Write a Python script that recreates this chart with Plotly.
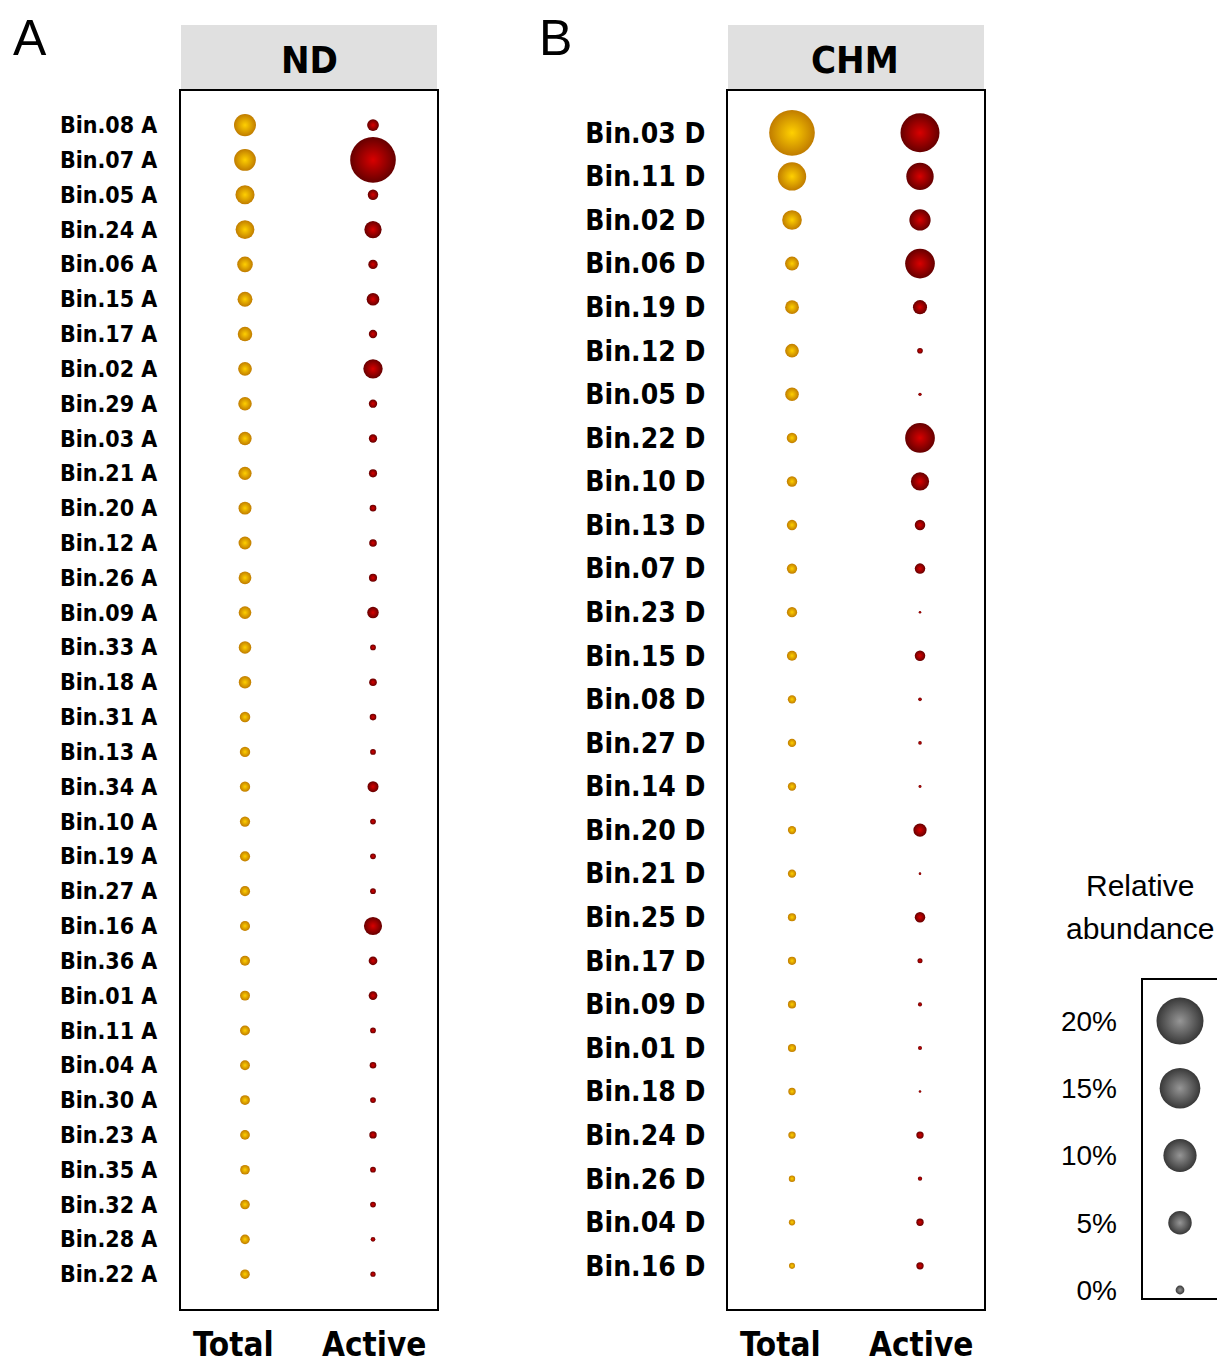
import plotly.graph_objects as go

# ---------------- data ----------------
columns = ["Total", "Active"]

nd_bins = ["Bin.08 A", "Bin.07 A", "Bin.05 A", "Bin.24 A", "Bin.06 A", "Bin.15 A", "Bin.17 A",
           "Bin.02 A", "Bin.29 A", "Bin.03 A", "Bin.21 A", "Bin.20 A", "Bin.12 A", "Bin.26 A",
           "Bin.09 A", "Bin.33 A", "Bin.18 A", "Bin.31 A", "Bin.13 A", "Bin.34 A", "Bin.10 A",
           "Bin.19 A", "Bin.27 A", "Bin.16 A", "Bin.36 A", "Bin.01 A", "Bin.11 A", "Bin.04 A",
           "Bin.30 A", "Bin.23 A", "Bin.35 A", "Bin.32 A", "Bin.28 A", "Bin.22 A"]
nd_total = [4.4, 4.3, 3.3, 3.2, 2.2, 2.0, 1.9, 1.7, 1.65, 1.6, 1.58, 1.52, 1.5, 1.48, 1.45, 1.42,
            1.4, 1.0, 0.98, 0.97, 0.95, 0.94, 0.93, 0.92, 0.91, 0.9, 0.89, 0.88, 0.87, 0.86, 0.85,
            0.84, 0.83, 0.82]
nd_active = [1.25, 18.9, 1.0, 2.7, 0.8, 1.45, 0.63, 3.4, 0.63, 0.63, 0.6, 0.4, 0.53, 0.6, 1.2,
             0.3, 0.53, 0.4, 0.3, 1.1, 0.3, 0.3, 0.3, 3.0, 0.68, 0.68, 0.3, 0.4, 0.3, 0.5, 0.3,
             0.3, 0.2, 0.25]

chm_bins = ["Bin.03 D", "Bin.11 D", "Bin.02 D", "Bin.06 D", "Bin.19 D", "Bin.12 D", "Bin.05 D",
            "Bin.22 D", "Bin.10 D", "Bin.13 D", "Bin.07 D", "Bin.23 D", "Bin.15 D", "Bin.08 D",
            "Bin.27 D", "Bin.14 D", "Bin.20 D", "Bin.21 D", "Bin.25 D", "Bin.17 D", "Bin.09 D",
            "Bin.01 D", "Bin.18 D", "Bin.24 D", "Bin.26 D", "Bin.04 D", "Bin.16 D"]
chm_total = [18.9, 7.3, 3.5, 1.75, 1.72, 1.7, 1.68, 1.0, 0.98, 0.97, 0.96, 0.95, 0.94, 0.64,
             0.63, 0.63, 0.62, 0.62, 0.61, 0.61, 0.6, 0.6, 0.5, 0.49, 0.37, 0.36, 0.33]
chm_active = [13.8, 6.8, 4.1, 8.0, 1.8, 0.29, 0.1, 8.0, 3.0, 1.0, 1.0, 0.06, 1.0, 0.12, 0.12,
              0.08, 1.6, 0.06, 1.0, 0.23, 0.15, 0.15, 0.06, 0.49, 0.17, 0.49, 0.49]

legend_values = [20, 15, 10, 5, 0]
legend_labels = ["20%", "15%", "10%", "5%", "0%"]
legend_bubble_values = [20, 15, 10, 5, 0.7]

# ---------------- styling ----------------
W, H = 1218, 1365
HEFF = 1358  # effective vertical extent used for layout positions
NARROW = "DejaVu Sans Condensed, Liberation Sans Narrow, Arial Narrow, sans-serif"
REG = "Liberation Sans, Arial, sans-serif"
SIZEREF = 2 / 10.5 ** 2

GOLD = dict(color="#C07C00", grad="#FFD000")
RED = dict(color="#660000", grad="#D80000")
GRAY = dict(color="#383838", grad="#969696")


def px(x):
    return x / W


def py(y):
    return 1 - y / HEFF


def bubbles(xcat, bins, vals, style, xa, ya):
    return go.Scatter(
        x=[xcat] * len(bins), y=list(range(len(bins))), mode="markers",
        xaxis=xa, yaxis=ya, showlegend=False, cliponaxis=False,
        marker=dict(size=vals, sizemode="area", sizeref=SIZEREF, color=style["color"],
                    opacity=1, gradient=dict(type="radial", color=style["grad"]),
                    line=dict(width=0)),
        hovertext=bins,
    )


fig = go.Figure()
fig.add_trace(bubbles(0, nd_bins, nd_total, GOLD, "x", "y"))
fig.add_trace(bubbles(1, nd_bins, nd_active, RED, "x", "y"))
fig.add_trace(bubbles(0, chm_bins, chm_total, GOLD, "x2", "y2"))
fig.add_trace(bubbles(1, chm_bins, chm_active, RED, "x2", "y2"))
fig.add_trace(go.Scatter(
    x=[0] * len(legend_values), y=legend_values, mode="markers", xaxis="x3", yaxis="y3",
    showlegend=False, cliponaxis=False,
    marker=dict(size=legend_bubble_values, sizemode="area", sizeref=SIZEREF,
                color=GRAY["color"], opacity=1,
                gradient=dict(type="radial", color=GRAY["grad"]), line=dict(width=0)),
))

box_y = [py(1309), py(91)]
xcommon = dict(range=[-0.5, 1.5], tickvals=[0, 1], showticklabels=False, showgrid=False,
               zeroline=False, showline=True, mirror=True, linewidth=2, linecolor="black",
               ticks="", fixedrange=True)
ycommon = dict(showgrid=False, zeroline=False, showline=True, mirror=True, linewidth=2,
               linecolor="black", ticks="", fixedrange=True)

fig.update_layout(
    width=W, height=H, margin=dict(l=0, r=0, t=0, b=0),
    paper_bgcolor="white", plot_bgcolor="white",
    xaxis=dict(domain=[px(181), px(437)], anchor="y", **xcommon),
    yaxis=dict(domain=box_y, anchor="x", range=[len(nd_bins), -0.98],
               tickvals=list(range(len(nd_bins))), ticktext=nd_bins, ticklabelstandoff=17,
               tickfont=dict(family=NARROW, size=23, color="black", weight="bold"), **ycommon),
    xaxis2=dict(domain=[px(728), px(984)], anchor="y2", **xcommon),
    yaxis2=dict(domain=box_y, anchor="x2", range=[len(chm_bins) - 0.01, -0.96],
                tickvals=list(range(len(chm_bins))), ticktext=chm_bins, ticklabelstandoff=15,
                tickfont=dict(family=NARROW, size=28, color="black", weight="bold"), **ycommon),
    xaxis3=dict(domain=[px(1142), 1.0], anchor="y3", range=[-1, 1], visible=False,
                fixedrange=True),
    yaxis3=dict(domain=[py(1299), py(979)], anchor="x3", range=[-0.67, 23.12],
                tickvals=legend_values, ticktext=legend_labels, showgrid=False,
                zeroline=False, showline=False, ticks="", ticklabelstandoff=24,
                tickfont=dict(family=REG, size=28, color="black"), fixedrange=True),
)

lx0, lx1, ly0, ly1 = px(1142), px(1217), py(1299), py(979)
shapes = [
    dict(type="rect", xref="paper", yref="paper", x0=px(181), x1=px(437), y0=py(91), y1=py(25),
         fillcolor="#E0E0E0", line=dict(width=0), layer="below"),
    dict(type="rect", xref="paper", yref="paper", x0=px(728), x1=px(984), y0=py(91), y1=py(25),
         fillcolor="#E0E0E0", line=dict(width=0), layer="below"),
    dict(type="path", xref="paper", yref="paper",
         path=f"M {lx1},{ly1} L {lx0},{ly1} L {lx0},{ly0} L {lx1},{ly0}",
         line=dict(color="black", width=2)),
]
fig.update_layout(shapes=shapes)

colfont = dict(family=NARROW, size=33, color="black", weight="bold")
annotations = [
    dict(text="ND", x=px(309), y=py(60), yanchor="middle",
         font=dict(family=NARROW, size=38, color="black", weight="bold")),
    dict(text="CHM", x=px(855), y=py(60), yanchor="middle",
         font=dict(family=NARROW, size=38, color="black", weight="bold")),
    dict(text="A", x=px(30), y=py(38), yanchor="middle", font=dict(family=REG, size=50, color="black")),
    dict(text="B", x=px(555), y=py(38), yanchor="middle", font=dict(family=REG, size=50, color="black")),
    dict(text="Relative", x=px(1140), y=py(885), yanchor="middle",
         font=dict(family=REG, size=30, color="black")),
    dict(text="abundance", x=px(1140), y=py(928), yanchor="middle",
         font=dict(family=REG, size=30, color="black")),
]
for a in annotations:
    a.update(xref="paper", yref="paper")
# column labels under each panel
for xa in ("x", "x2"):
    for i, name in enumerate(columns):
        annotations.append(dict(text=name, xref=xa, x=i, yref="paper", y=0, yanchor="bottom",
                                borderpad=0, xshift=-12 if i == 0 else 1, yshift=-7,
                                font=colfont))
for a in annotations:
    a.update(showarrow=False, xanchor="center")
fig.update_layout(annotations=annotations)

fig.write_html("out.html")
